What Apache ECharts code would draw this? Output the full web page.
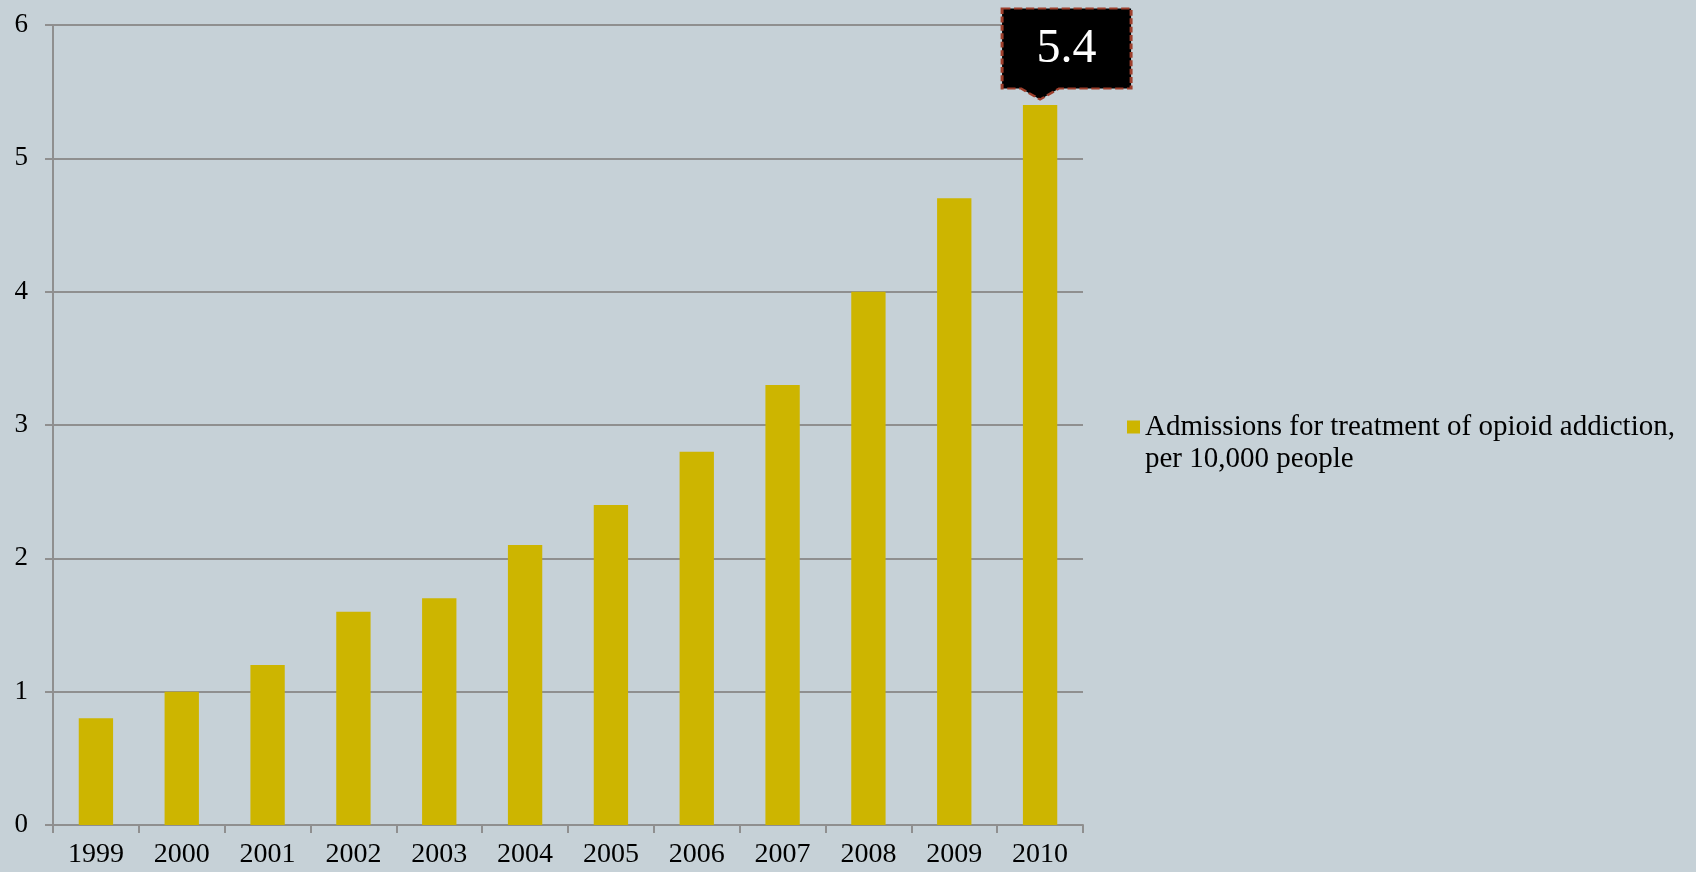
<!DOCTYPE html>
<html>
<head>
<meta charset="utf-8">
<script src="https://cdn.jsdelivr.net/npm/echarts@6/dist/echarts.min.js"></script>
<style>
html,body{margin:0;padding:0;background:#c6d1d7;}
#chart{width:1696px;height:872px;}
</style>
</head>
<body>
<div id="chart"></div>
<script>
const years = ['1999','2000','2001','2002','2003','2004','2005','2006','2007','2008','2009','2010'];
const admissions = [0.8, 1.0, 1.2, 1.6, 1.7, 2.1, 2.4, 2.8, 3.3, 4.0, 4.7, 5.4];
const yTicks = [0, 1, 2, 3, 4, 5, 6];
const seriesName = 'Admissions for treatment of opioid addiction, per 10,000 people';
const highlightIndex = 11;

const FONT = '"Liberation Serif", "DejaVu Serif", serif';
const GRAY = '#8f8f8f';

const chart = echarts.init(document.getElementById('chart'), null, {renderer: 'canvas'});
chart.setOption({
  backgroundColor: '#c6d1d7',
  animation: false,
  textStyle: {fontFamily: FONT},
  grid: {left: 53, right: 613, top: 25, bottom: 47, containLabel: false},
  legend: {
    left: 1127, top: 379, padding: 0,
    icon: 'rect', itemWidth: 13, itemHeight: 13, itemGap: 5,
    formatter: function () { return ' \nAdmissions for treatment of opioid addiction,\nper 10,000 people'; },
    textStyle: {fontFamily: FONT, fontSize: 29, color: '#000', lineHeight: 32, padding: [0,0,0,0]},
    data: [seriesName]
  },
  xAxis: {
    type: 'category',
    data: years,
    boundaryGap: true,
    axisLine: {show: true, lineStyle: {color: GRAY, width: 2}},
    axisTick: {show: true, length: 8, alignWithLabel: false, lineStyle: {color: GRAY, width: 2}},
    axisLabel: {fontFamily: FONT, fontSize: 28, color: '#000', margin: 16, interval: 0}
  },
  yAxis: {
    type: 'value',
    min: yTicks[0], max: yTicks[yTicks.length - 1], interval: 1,
    axisLine: {show: true, lineStyle: {color: GRAY, width: 2}},
    axisTick: {show: true, length: 8, lineStyle: {color: GRAY, width: 2}},
    axisLabel: {fontFamily: FONT, fontSize: 27, color: '#000', margin: 25},
    splitLine: {show: true, lineStyle: {color: GRAY, width: 2}}
  },
  series: [{
    name: seriesName,
    type: 'bar',
    data: admissions,
    barWidth: '40%',
    itemStyle: {color: '#cdb500'},
    markPoint: {
      symbol: 'path://M0,0 L129,0 L129,80 L57,80 L38,91 L19,80 L0,80 Z',
      symbolSize: [129, 91],
      symbolKeepAspect: false,
      symbolOffset: [26.5, -51],
      itemStyle: {color: '#000', borderColor: '#9e3f2c', borderWidth: 2.5, borderType: [7, 3]},
      label: {
        show: true, position: 'inside', offset: [0, -5],
        fontFamily: FONT, fontSize: 48, color: '#fff',
        formatter: function (p) { return p.value.toFixed(1); }
      },
      data: [{coord: [years[highlightIndex], admissions[highlightIndex]], value: admissions[highlightIndex]}]
    }
  }]
});
</script>
</body>
</html>
